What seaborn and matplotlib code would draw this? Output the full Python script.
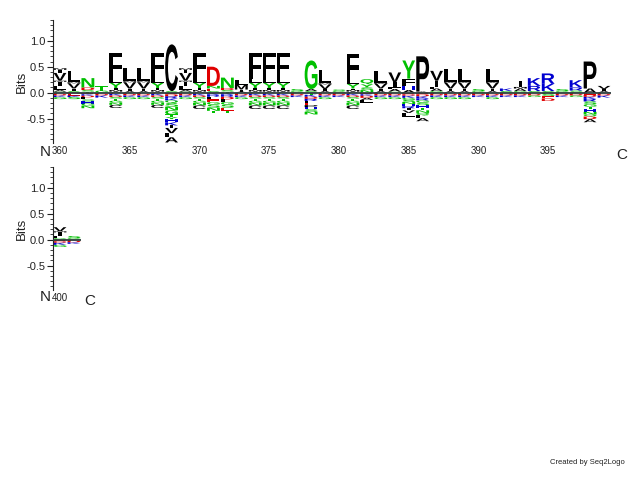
import matplotlib
matplotlib.use("Agg")
import matplotlib.pyplot as plt
import seaborn as sns
from matplotlib.textpath import TextPath
from matplotlib.patches import PathPatch
from matplotlib.font_manager import FontProperties
from matplotlib.transforms import Affine2D
from matplotlib.ticker import MultipleLocator

# positions of the logo, first row 360-399, second row 400-401
positions = list(range(360, 402))

# enriched letters, bottom -> top, with heights in bits
up_letters = [
    "GALIMVIM", "SIVML", "TSDN", "GT", "AMIYLF", "AIVML", "AIVML", "AMIYLF", "SC", "GALIMVIM",
    "AMIYLF", "SEND", "TSDN", "AIML", "AMIYLF", "AMIYLF", "AMIYLF", "GS", "SAG", "AIVML",
    "GS", "AMIYLF", "NSYQ", "AIVML", "GAFIV", "AHFY", "AP", "GAFIV", "AIVML", "AIVML",
    "GS", "AIVML", "SK", "GAMI", "SRK", "SKR", "GS", "SRK", "AP", "AIV",
    "GLIMV", "GS",
]
up_heights = [
    [0.02, 0.03, 0.08, 0.08, 0.02, 0.15, 0.06, 0.03], [0.03, 0.05, 0.1, 0.02, 0.22],
    [0.02, 0.03, 0.05, 0.18], [0.04, 0.08], [0.02, 0.03, 0.04, 0.1, 0.08, 0.5],
    [0.03, 0.05, 0.12, 0.02, 0.26], [0.03, 0.05, 0.12, 0.02, 0.26],
    [0.02, 0.03, 0.04, 0.1, 0.08, 0.5], [0.03, 0.9],
    [0.02, 0.03, 0.08, 0.08, 0.02, 0.15, 0.06, 0.03], [0.02, 0.03, 0.04, 0.1, 0.08, 0.5],
    [0.03, 0.05, 0.05, 0.37], [0.02, 0.03, 0.04, 0.2], [0.02, 0.04, 0.09, 0.1],
    [0.02, 0.03, 0.04, 0.1, 0.08, 0.5], [0.02, 0.03, 0.04, 0.1, 0.08, 0.5],
    [0.02, 0.03, 0.04, 0.1, 0.08, 0.5], [0.03, 0.04], [0.03, 0.04, 0.55],
    [0.03, 0.04, 0.09, 0.02, 0.26], [0.03, 0.03], [0.02, 0.03, 0.03, 0.09, 0.1, 0.48],
    [0.05, 0.05, 0.06, 0.1], [0.03, 0.05, 0.09, 0.02, 0.23], [0.02, 0.05, 0.03, 0.1, 0.19],
    [0.05, 0.08, 0.14, 0.35], [0.02, 0.68], [0.03, 0.05, 0.03, 0.12, 0.19],
    [0.03, 0.05, 0.11, 0.02, 0.24], [0.03, 0.05, 0.11, 0.02, 0.24], [0.03, 0.04],
    [0.03, 0.05, 0.11, 0.02, 0.24], [0.03, 0.05], [0.03, 0.05, 0.03, 0.12], [0.03, 0.1, 0.15],
    [0.03, 0.14, 0.2], [0.03, 0.04], [0.04, 0.06, 0.14], [0.08, 0.52],
    [0.03, 0.04, 0.06], [0.03, 0.05, 0.06, 0.02, 0.08], [0.03, 0.04],
]

# depleted letters, from 0 downwards
down_letters = [
    "EDKG", "DEKS", "EKDLSHGN", "EDK", "EKDSTGNC", "EDKG", "EDKG", "EKDSTGNC",
    "EDRKQSNGTYHKIVLA", "EDKG",
    "EKDSTGNC", "KRLEGSNT", "KRDLGSET", "EDKG", "EKDSTGNC", "EKDSTGNC", "EKDSTGNC", "EDK",
    "TKDRLEPHSN", "EDKG",
    "EDK", "EKDSTGNC", "EKDAL", "EDKG", "EDKG", "EDKGSNHRIVL", "EDKRGSHTNQLA", "EDKG",
    "EDKG", "EDKG",
    "EDK", "EDKG", "EDK", "EDK", "EDG", "GSED", "EDK", "EDG", "EDKRSGTHNQDA", "EDK",
    "EDKG", "EDK",
]
down_heights = [
    [0.025, 0.03, 0.03, 0.04], [0.025, 0.03, 0.03, 0.04],
    [0.03, 0.03, 0.03, 0.04, 0.04, 0.04, 0.04, 0.05], [0.025, 0.03, 0.04],
    [0.025, 0.03, 0.03, 0.03, 0.04, 0.04, 0.04, 0.06], [0.025, 0.03, 0.03, 0.04],
    [0.025, 0.03, 0.03, 0.04], [0.025, 0.03, 0.03, 0.03, 0.04, 0.04, 0.04, 0.06],
    [0.03, 0.04, 0.04, 0.04, 0.05, 0.07, 0.07, 0.08, 0.05, 0.04, 0.06, 0.06, 0.05, 0.1, 0.08, 0.1],
    [0.025, 0.03, 0.03, 0.04],
    [0.025, 0.03, 0.03, 0.03, 0.04, 0.04, 0.05, 0.07], [0.04, 0.04, 0.05, 0.05, 0.05, 0.06, 0.06, 0.05],
    [0.04, 0.04, 0.05, 0.05, 0.05, 0.06, 0.06, 0.05], [0.025, 0.03, 0.03, 0.04],
    [0.025, 0.03, 0.03, 0.03, 0.04, 0.04, 0.05, 0.07], [0.025, 0.03, 0.03, 0.03, 0.04, 0.04, 0.05, 0.07],
    [0.025, 0.03, 0.03, 0.03, 0.04, 0.04, 0.05, 0.07], [0.025, 0.03, 0.03],
    [0.04, 0.04, 0.04, 0.04, 0.04, 0.04, 0.04, 0.04, 0.05, 0.05], [0.025, 0.03, 0.03, 0.04],
    [0.025, 0.03, 0.03], [0.025, 0.03, 0.03, 0.03, 0.04, 0.04, 0.05, 0.07],
    [0.03, 0.03, 0.04, 0.04, 0.05], [0.025, 0.03, 0.03, 0.04], [0.025, 0.03, 0.03, 0.04],
    [0.03, 0.03, 0.04, 0.04, 0.04, 0.04, 0.04, 0.04, 0.04, 0.05, 0.07],
    [0.03, 0.04, 0.04, 0.04, 0.04, 0.05, 0.05, 0.05, 0.05, 0.05, 0.05, 0.06],
    [0.025, 0.03, 0.03, 0.04], [0.025, 0.03, 0.03, 0.04], [0.025, 0.03, 0.03, 0.04],
    [0.025, 0.03, 0.03], [0.025, 0.03, 0.03, 0.04], [0.025, 0.03, 0.03], [0.025, 0.03, 0.03],
    [0.025, 0.03, 0.03], [0.03, 0.04, 0.04, 0.05], [0.025, 0.03, 0.03], [0.025, 0.03, 0.03],
    [0.04, 0.04, 0.04, 0.05, 0.05, 0.05, 0.05, 0.05, 0.05, 0.04, 0.05, 0.06], [0.025, 0.03, 0.04],
    [0.03, 0.03, 0.04, 0.04], [0.02, 0.03, 0.03],
]

COLORS = {}
for c in "AVLIPWFMC":
    COLORS[c] = "#000000"
for c in "GSTYNQ":
    COLORS[c] = "#00c000"
for c in "KRH":
    COLORS[c] = "#0000d0"
for c in "DE":
    COLORS[c] = "#e00000"

sns.set_style("ticks")
plt.rcParams["font.family"] = ["Liberation Sans", "DejaVu Sans"]
TXT = "#222222"

FP = FontProperties(family="Liberation Sans", weight="bold")
glyphs = {}


def draw_letter(ax, ch, x, y, w, h):
    if ch not in glyphs:
        glyphs[ch] = TextPath((0, 0), ch, size=1, prop=FP)
    p = glyphs[ch]
    ext = p.get_extents()
    if ch == "I":
        # I keeps its narrow width, centred in the column
        x = x + w * 0.36
        w = w * 0.28
    t = Affine2D().translate(-ext.x0, -ext.y0).scale(w / ext.width, h / ext.height).translate(x, y)
    ax.add_patch(PathPatch(t.transform_path(p), fc=COLORS[ch], ec="none", lw=0))


def draw_logo(ax, idx):
    for k, i in enumerate(idx):
        y = 0.0
        for ch, h in zip(up_letters[i], up_heights[i]):
            draw_letter(ax, ch, k + 0.04, y, 0.92, h)
            y += h
        y = 0.0
        for ch, h in zip(down_letters[i], down_heights[i]):
            y -= h
            draw_letter(ax, ch, k + 0.04, y, 0.92, h)
    n = len(idx)
    ax.plot([0, n], [0, 0], color="#2f3f3f", lw=1.3, zorder=5)
    ax.set_xlim(0, n)
    ax.set_ylim(-0.97, 1.4)
    ticks = [k + 0.5 for k, i in enumerate(idx) if positions[i] % 5 == 0]
    labels = [str(positions[i]) for i in idx if positions[i] % 5 == 0]
    ax.set_xticks(ticks)
    ax.set_xticklabels(labels, fontsize=7, color=TXT)
    ax.tick_params(axis="x", length=0, pad=2)
    ax.set_yticks([-0.5, 0.0, 0.5, 1.0])
    ax.set_yticklabels(["-0.5", "0.0", "0.5", "1.0"], fontsize=8, color=TXT)
    ax.yaxis.set_minor_locator(MultipleLocator(0.1))
    ax.tick_params(axis="y", which="major", length=4, width=0.8, pad=1.5, color=TXT)
    ax.tick_params(axis="y", which="minor", length=2.5, width=0.6, color=TXT)
    ax.set_ylabel("Bits", fontsize=9.5, color=TXT, labelpad=-1)
    sns.despine(ax=ax, bottom=True)
    ax.spines["left"].set_color(TXT)
    ax.spines["left"].set_linewidth(0.8)


fig = plt.figure(figsize=(6.4, 4.8), dpi=100)
ax1 = fig.add_axes([53 / 640, 1 - 143 / 480, 558 / 640, 123 / 480])
ax2 = fig.add_axes([53 / 640, 1 - 290 / 480, 28 / 640, 123 / 480])

draw_logo(ax1, list(range(0, 40)))
draw_logo(ax2, [40, 41])

fig.text(45 / 640, 1 - 152 / 480, "N", fontsize=11, ha="center", va="center", color=TXT)
fig.text(622 / 640, 1 - 155 / 480, "C", fontsize=11, ha="center", va="center", color=TXT)
fig.text(45 / 640, 1 - 297 / 480, "N", fontsize=11, ha="center", va="center", color=TXT)
fig.text(90 / 640, 1 - 301 / 480, "C", fontsize=11, ha="center", va="center", color=TXT)
fig.text(587 / 640, 1 - 463 / 480, "Created by Seq2Logo", fontsize=5.5, ha="center", va="center", color=TXT)

fig.savefig("out.png", dpi=100, facecolor="white")
